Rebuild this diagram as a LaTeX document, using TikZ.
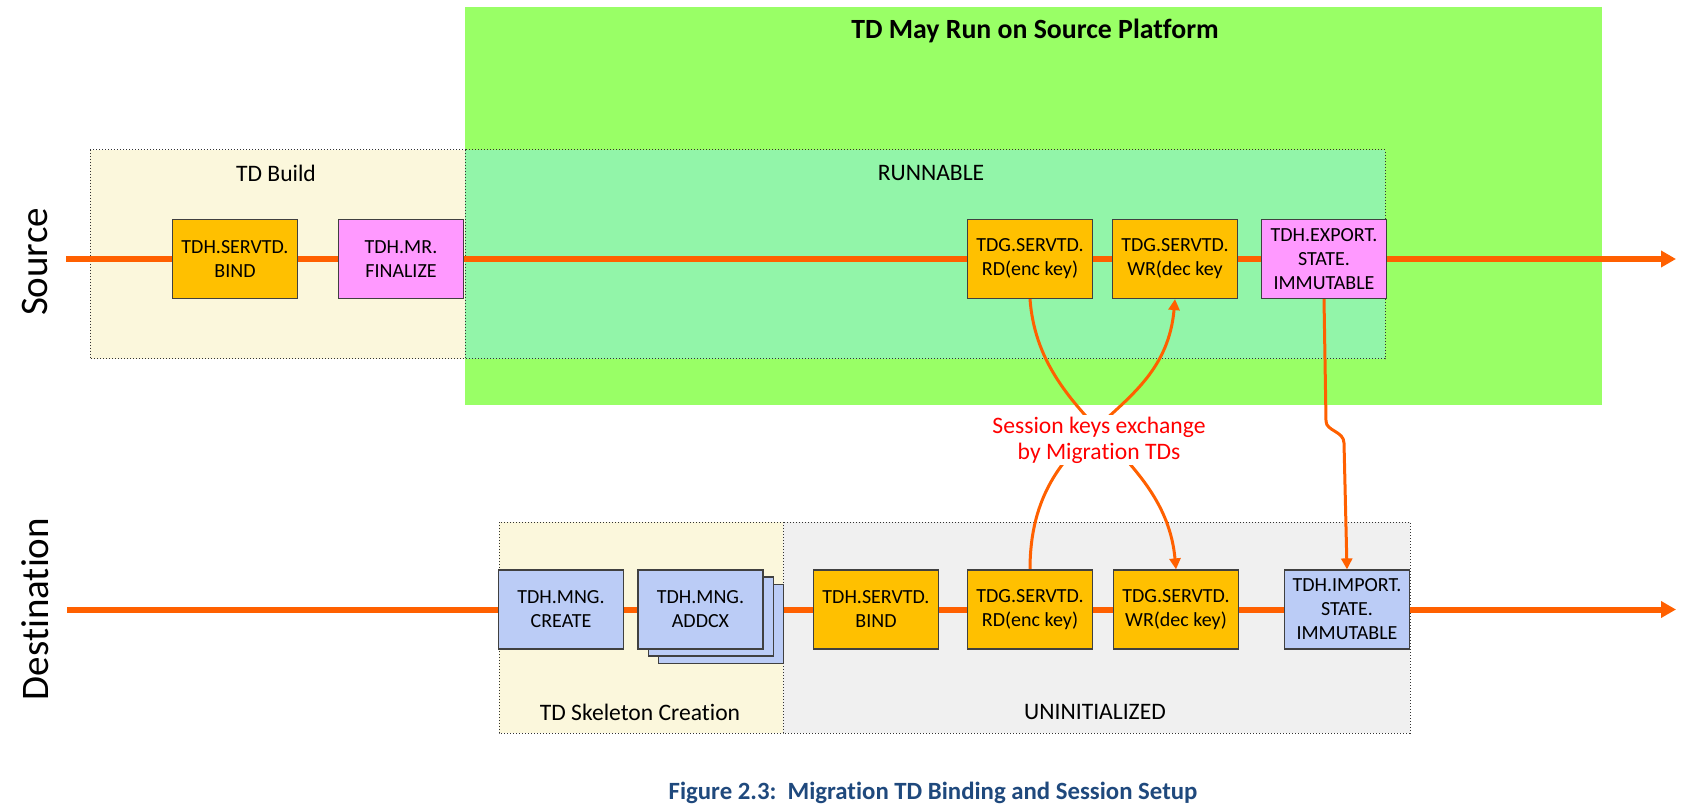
\documentclass[tikz,border=0pt]{standalone}
\usepackage{fontspec}
\setmainfont{Carlito}[Ligatures=NoCommon]
\usetikzlibrary{arrows.meta}
\definecolor{flow}{RGB}{255,96,0}
\definecolor{platgreen}{RGB}{153,255,102}
\definecolor{runnable}{RGB}{146,245,169}
\definecolor{buildbg}{RGB}{251,247,220}
\definecolor{uninit}{RGB}{240,240,240}
\definecolor{gold}{RGB}{255,192,0}
\definecolor{pinkbox}{RGB}{255,153,255}
\definecolor{bluebox}{RGB}{187,204,246}
\definecolor{capblue}{RGB}{31,73,125}
\pgfdeclarelayer{back}
\pgfdeclarelayer{wires}
\pgfsetlayers{back,wires,main}

\begin{document}
\begin{tikzpicture}[x=0.5pt,y=-0.5pt,
  cmd/.style={draw=black!75,line width=0.6pt,minimum width=62.5pt,minimum height=39.5pt,
    inner sep=0pt,align=center,font=\fontsize{10}{12}\selectfont},
  zone/.style={draw=black!80,densely dotted,line width=0.5pt},
  zonelabel/.style={font=\fontsize{11.8}{14}\selectfont},
  side/.style={font=\fontsize{19.5}{22}\selectfont,rotate=90},
  flowline/.style={flow,line width=3pt,-{Triangle[length=7.5pt,width=8pt]}},
  keyline/.style={flow,line width=1.5pt,-{Triangle[length=5.5pt,width=5.5pt]}}]

\useasboundingbox (0,0) rectangle (1692,812);

\begin{pgfonlayer}{back}
\fill[platgreen] (465,7.5) rectangle (1602,405);
\draw[zone,fill=buildbg] (90,150) rectangle (465,359);
\draw[zone,fill=runnable] (465,150) rectangle (1385,359);
\draw[zone,fill=buildbg] (499,522) rectangle (783,733);
\draw[zone,fill=uninit] (783,522) rectangle (1410,733);
\end{pgfonlayer}

\node[font=\bfseries\fontsize{13.9}{16}\selectfont] (plat) at (1035,31) {TD May Run on Source Platform};
\node[zonelabel] (buildlbl) at (276,173) {TD Build};
\node[zonelabel] (runlbl) at (931,173) {RUNNABLE};
\node[zonelabel] (skellbl) at (640,712) {TD Skeleton Creation};
\node[zonelabel] (uninitlbl) at (1095,712) {UNINITIALIZED};
\node[side] (srclbl) at (35,262) {Source};
\node[side] (dstlbl) at (35,609) {Destination};

\coordinate (sin) at (66,259);
\coordinate (sout) at (1676,259);
\node[cmd,fill=gold] (sbind) at (235,259) {TDH.SERVTD.\\BIND};
\node[cmd,fill=pinkbox] (sfin) at (401,259) {TDH.MR.\\FINALIZE};
\node[cmd,fill=gold] (srd) at (1030,259) {TDG.SERVTD.\\RD(enc key)};
\node[cmd,fill=gold] (swr) at (1175,259) {TDG.SERVTD.\\WR(dec key};
\node[cmd,fill=pinkbox] (sexp) at (1324,259) {TDH.EXPORT.\\STATE.\\IMMUTABLE};

\coordinate (din) at (67,609.5);
\coordinate (dout) at (1676,609.5);
\node[cmd,fill=bluebox] (dcreate) at (561,609.5) {TDH.MNG.\\CREATE};
\node[cmd,fill=bluebox] (daddcx3) at (721,624) {};
\node[cmd,fill=bluebox] (daddcx2) at (711,616.5) {};
\node[cmd,fill=bluebox] (daddcx) at (700.5,609.5) {TDH.MNG.\\ADDCX};
\node[cmd,fill=gold] (dbind) at (876,609.5) {TDH.SERVTD.\\BIND};
\node[cmd,fill=gold] (drd) at (1030,609.5) {TDG.SERVTD.\\RD(enc key)};
\node[cmd,fill=gold] (dwr) at (1176,609.5) {TDG.SERVTD.\\WR(dec key)};
\node[cmd,fill=bluebox] (dimp) at (1347,609.5) {TDH.IMPORT.\\STATE.\\IMMUTABLE};

\node[fill=white,inner sep=1pt,align=center,text=red,font=\fontsize{11.8}{13}\selectfont]
  (keys) at (1099,440) {Session keys exchange\\by Migration TDs};

\begin{pgfonlayer}{wires}
\draw[flowline] (sin) -- (sbind) -- (sfin) -- (srd) -- (swr) -- (sexp) -- (sout);
\draw[flowline] (din) -- (dcreate) -- (daddcx) -- (dbind) -- (drd) -- (dwr) -- (dimp) -- (dout);
\draw[keyline] (srd.south) .. controls +(9,122) and +(-11,-120) .. (dwr.north);
\draw[keyline] (drd.north) .. controls +(0,-150) and +(-11,125) .. (swr.south);
\draw[keyline] (sexp.south) -- ++(2,122) .. controls +(0,10) and +(0,-12) .. ++(18,22) -- (dimp.north);
\end{pgfonlayer}

\node[text=capblue,font=\bfseries\fontsize{12.4}{15}\selectfont] (cap) at (933,793)
  {Figure 2.3:\ \ Migration TD Binding and Session Setup};

\end{tikzpicture}
\end{document}
